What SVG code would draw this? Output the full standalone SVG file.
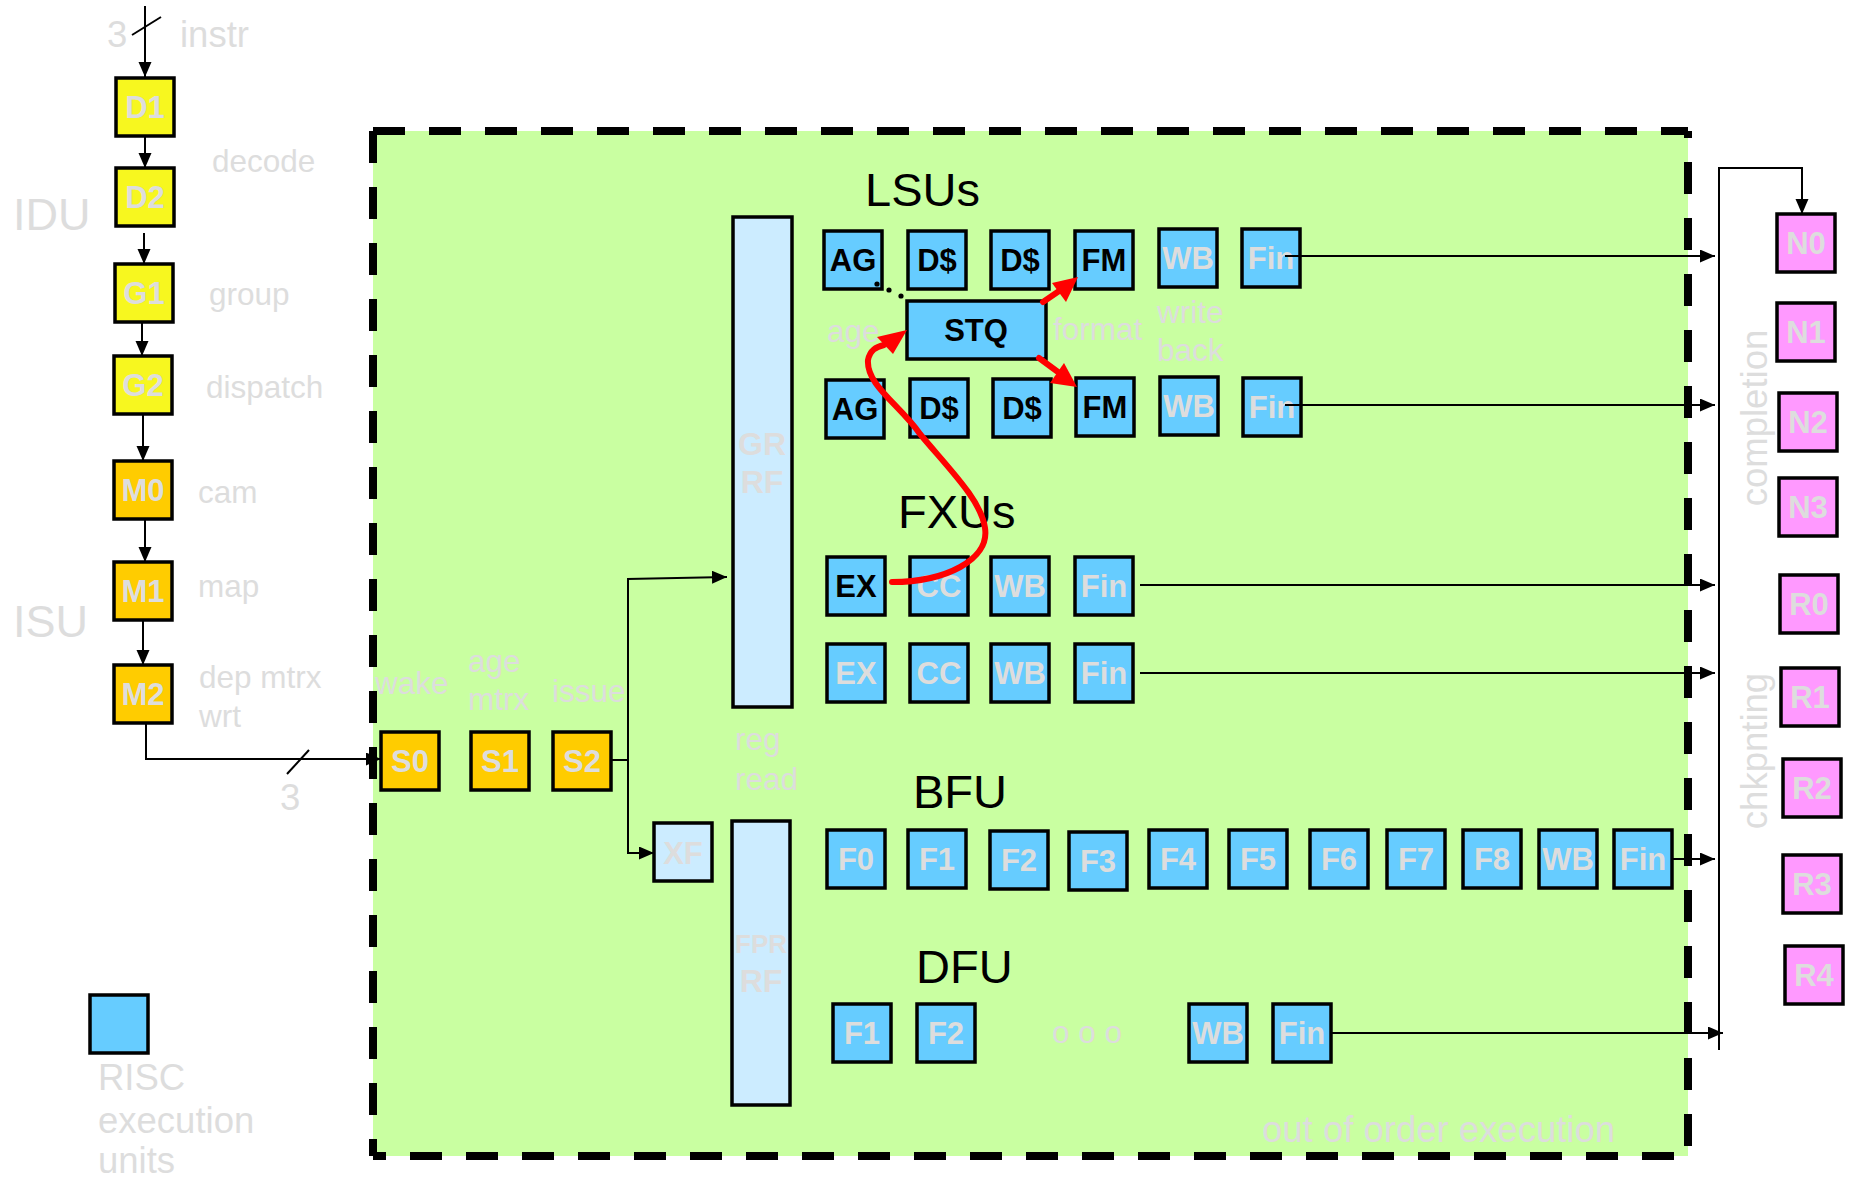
<svg xmlns="http://www.w3.org/2000/svg" width="1855" height="1182" viewBox="0 0 1855 1182">
<style>
.bx{stroke:#000;stroke-width:3.5}
.y{fill:#F7F71F}.o{fill:#FFCC00}.b{fill:#66CCFF}.lb{fill:#CCECFF}.p{fill:#FF99FF}
.bt{font-family:"Liberation Sans",Arial,sans-serif;font-weight:bold;font-size:31px;text-anchor:middle}
.g{fill:#DDDDDD}.k{fill:#000}
.lbl{font-family:"Liberation Sans",Arial,sans-serif;font-size:31.5px;fill:#DDDDDD}
.big{font-size:36.5px}
.hd{font-family:"Liberation Sans",Arial,sans-serif;font-size:47px;fill:#000}
.ln{stroke:#000;stroke-width:2;fill:none}
.dash{stroke:#000;stroke-width:8;stroke-dasharray:32 24;fill:none}
.red{stroke:#FF0000;stroke-width:6;fill:none;stroke-linecap:round}
</style>
<defs>
<marker id="ah" markerUnits="userSpaceOnUse" markerWidth="16" markerHeight="14" refX="15" refY="6.5" orient="auto"><path d="M0,0 L15,6.5 L0,13 z" fill="#000"/></marker>
</defs>
<rect width="1855" height="1182" fill="#fff"/>
<!-- out of order region -->
<g id="ooo-region">
<rect x="373" y="131" width="1315" height="1025" fill="#C9FFA1"/>
<text class="lbl big" x="1262" y="1142">out of order execution</text>
</g>
<!-- labels -->
<g id="labels">
<text class="lbl big" x="107" y="47">3</text>
<text class="lbl big" x="180" y="47">instr</text>
<text class="lbl" x="212" y="172">decode</text>
<text class="lbl" x="13" y="230" style="font-size:45px">IDU</text>
<text class="lbl" x="209" y="305">group</text>
<text class="lbl" x="206" y="398">dispatch</text>
<text class="lbl" x="198" y="503">cam</text>
<text class="lbl" x="198" y="597">map</text>
<text class="lbl" x="13" y="637" style="font-size:45px">ISU</text>
<text class="lbl" x="199" y="688">dep mtrx</text>
<text class="lbl" x="199" y="727">wrt</text>
<text class="lbl big" x="280" y="810">3</text>
<text class="lbl big" x="98" y="1090">RISC</text>
<text class="lbl big" x="98" y="1133">execution</text>
<text class="lbl big" x="98" y="1173">units</text>
<text class="lbl" x="375" y="694">wake</text>
<text class="lbl" x="468" y="672">age</text>
<text class="lbl" x="468" y="710">mtrx</text>
<text class="lbl" x="552" y="702">issue</text>
<text class="lbl" x="735" y="750">reg</text>
<text class="lbl" x="735" y="790">read</text>
<text class="lbl" x="827" y="342">age</text>
<text class="lbl" x="1053" y="340">format</text>
<text class="lbl" x="1157" y="323">write</text>
<text class="lbl" x="1157" y="361">back</text>
<text class="lbl" x="1052" y="1043">o o o</text>
<text class="hd" x="865" y="206">LSUs</text>
<text class="hd" x="898" y="528">FXUs</text>
<text class="hd" x="913" y="808">BFU</text>
<text class="hd" x="916" y="983">DFU</text>
<text class="lbl big" text-anchor="middle" transform="translate(1767,418) rotate(-90)">completion</text>
<text class="lbl big" text-anchor="middle" transform="translate(1767,751) rotate(-90)">chkpnting</text>
</g>
<!-- nodes -->
<g id="D1"><rect class="bx y" x="116" y="78" width="58" height="58"/><text class="bt g" x="145" y="118">D1</text></g>
<g id="D2"><rect class="bx y" x="116" y="168" width="58" height="58"/><text class="bt g" x="145" y="208">D2</text></g>
<g id="G1"><rect class="bx y" x="115" y="264" width="58" height="58"/><text class="bt g" x="144" y="304">G1</text></g>
<g id="G2"><rect class="bx y" x="114" y="356" width="58" height="58"/><text class="bt g" x="143" y="396">G2</text></g>
<g id="M0"><rect class="bx o" x="114" y="461" width="58" height="58"/><text class="bt g" x="143" y="501">M0</text></g>
<g id="M1"><rect class="bx o" x="114" y="562" width="58" height="58"/><text class="bt g" x="143" y="602">M1</text></g>
<g id="M2"><rect class="bx o" x="114" y="665" width="58" height="58"/><text class="bt g" x="143" y="705">M2</text></g>
<g id="RISC-legend"><rect class="bx b" x="90" y="995" width="58" height="58"/></g>
<g id="S0"><rect class="bx o" x="381" y="732" width="58" height="58"/><text class="bt g" x="410" y="772">S0</text></g>
<g id="S1"><rect class="bx o" x="471" y="732" width="58" height="58"/><text class="bt g" x="500" y="772">S1</text></g>
<g id="S2"><rect class="bx o" x="553" y="732" width="58" height="58"/><text class="bt g" x="582" y="772">S2</text></g>
<g id="XF"><rect class="bx lb" x="654" y="823" width="58" height="58"/><text class="bt g" x="683" y="864">XF</text></g>
<g id="GRRF"><rect class="bx lb" x="733" y="217" width="59" height="490"/><text class="bt g" x="762" y="455" style="font-size:32px">GR</text><text class="bt g" x="762" y="493" style="font-size:32px">RF</text></g>
<g id="FPRRF"><rect class="bx lb" x="732" y="821" width="58" height="284"/><text class="bt g" x="761" y="953" style="font-size:26px">FPR</text><text class="bt g" x="761" y="992" style="font-size:32px">RF</text></g>
<!-- LSU row 1 -->
<g id="LSU1-AG"><rect class="bx b" x="824" y="231" width="58" height="58"/><text class="bt k" x="853" y="271">AG</text></g>
<g id="LSU1-D1"><rect class="bx b" x="908" y="231" width="58" height="58"/><text class="bt k" x="937" y="271">D$</text></g>
<g id="LSU1-D2"><rect class="bx b" x="991" y="231" width="58" height="58"/><text class="bt k" x="1020" y="271">D$</text></g>
<g id="LSU1-FM"><rect class="bx b" x="1075" y="231" width="58" height="58"/><text class="bt k" x="1104" y="271">FM</text></g>
<g id="LSU1-WB"><rect class="bx b" x="1159" y="229" width="58" height="58"/><text class="bt g" x="1188" y="269">WB</text></g>
<g id="LSU1-Fin"><rect class="bx b" x="1242" y="229" width="58" height="58"/><text class="bt g" x="1271" y="269">Fin</text></g>
<!-- LSU row 2 -->
<g id="LSU2-AG"><rect class="bx b" x="826" y="380" width="58" height="58"/><text class="bt k" x="855" y="420">AG</text></g>
<g id="LSU2-D1"><rect class="bx b" x="910" y="379" width="58" height="58"/><text class="bt k" x="939" y="419">D$</text></g>
<g id="LSU2-D2"><rect class="bx b" x="993" y="379" width="58" height="58"/><text class="bt k" x="1022" y="419">D$</text></g>
<g id="LSU2-FM"><rect class="bx b" x="1076" y="378" width="58" height="58"/><text class="bt k" x="1105" y="418">FM</text></g>
<g id="LSU2-WB"><rect class="bx b" x="1160" y="377" width="58" height="58"/><text class="bt g" x="1189" y="417">WB</text></g>
<g id="LSU2-Fin"><rect class="bx b" x="1243" y="378" width="58" height="58"/><text class="bt g" x="1272" y="418">Fin</text></g>
<g id="STQ"><rect class="bx b" x="907" y="301" width="139" height="58"/><text class="bt k" x="976" y="341">STQ</text></g>
<!-- FXU -->
<g id="FXU1-EX"><rect class="bx b" x="827" y="557" width="58" height="58"/><text class="bt k" x="856" y="597">EX</text></g>
<g id="FXU1-CC"><rect class="bx b" x="910" y="557" width="58" height="58"/><text class="bt g" x="939" y="597">CC</text></g>
<g id="FXU1-WB"><rect class="bx b" x="991" y="557" width="58" height="58"/><text class="bt g" x="1020" y="597">WB</text></g>
<g id="FXU1-Fin"><rect class="bx b" x="1075" y="557" width="58" height="58"/><text class="bt g" x="1104" y="597">Fin</text></g>
<g id="FXU2-EX"><rect class="bx b" x="827" y="644" width="58" height="58"/><text class="bt g" x="856" y="684">EX</text></g>
<g id="FXU2-CC"><rect class="bx b" x="910" y="644" width="58" height="58"/><text class="bt g" x="939" y="684">CC</text></g>
<g id="FXU2-WB"><rect class="bx b" x="991" y="644" width="58" height="58"/><text class="bt g" x="1020" y="684">WB</text></g>
<g id="FXU2-Fin"><rect class="bx b" x="1075" y="644" width="58" height="58"/><text class="bt g" x="1104" y="684">Fin</text></g>
<!-- BFU -->
<g id="BFU-F0"><rect class="bx b" x="827" y="830" width="58" height="58"/><text class="bt g" x="856" y="870">F0</text></g>
<g id="BFU-F1"><rect class="bx b" x="908" y="830" width="58" height="58"/><text class="bt g" x="937" y="870">F1</text></g>
<g id="BFU-F2"><rect class="bx b" x="990" y="831" width="58" height="58"/><text class="bt g" x="1019" y="871">F2</text></g>
<g id="BFU-F3"><rect class="bx b" x="1069" y="832" width="58" height="58"/><text class="bt g" x="1098" y="872">F3</text></g>
<g id="BFU-F4"><rect class="bx b" x="1149" y="830" width="58" height="58"/><text class="bt g" x="1178" y="870">F4</text></g>
<g id="BFU-F5"><rect class="bx b" x="1229" y="830" width="58" height="58"/><text class="bt g" x="1258" y="870">F5</text></g>
<g id="BFU-F6"><rect class="bx b" x="1310" y="830" width="58" height="58"/><text class="bt g" x="1339" y="870">F6</text></g>
<g id="BFU-F7"><rect class="bx b" x="1387" y="830" width="58" height="58"/><text class="bt g" x="1416" y="870">F7</text></g>
<g id="BFU-F8"><rect class="bx b" x="1463" y="830" width="58" height="58"/><text class="bt g" x="1492" y="870">F8</text></g>
<g id="BFU-WB"><rect class="bx b" x="1539" y="830" width="58" height="58"/><text class="bt g" x="1568" y="870">WB</text></g>
<g id="BFU-Fin"><rect class="bx b" x="1614" y="830" width="58" height="58"/><text class="bt g" x="1643" y="870">Fin</text></g>
<!-- DFU -->
<g id="DFU-F1"><rect class="bx b" x="833" y="1004" width="58" height="58"/><text class="bt g" x="862" y="1044">F1</text></g>
<g id="DFU-F2"><rect class="bx b" x="917" y="1004" width="58" height="58"/><text class="bt g" x="946" y="1044">F2</text></g>
<g id="DFU-WB"><rect class="bx b" x="1189" y="1004" width="58" height="58"/><text class="bt g" x="1218" y="1044">WB</text></g>
<g id="DFU-Fin"><rect class="bx b" x="1273" y="1004" width="58" height="58"/><text class="bt g" x="1302" y="1044">Fin</text></g>
<!-- completion / checkpoint -->
<g id="N0"><rect class="bx p" x="1777" y="214" width="58" height="58"/><text class="bt g" x="1806" y="254">N0</text></g>
<g id="N1"><rect class="bx p" x="1777" y="303" width="58" height="58"/><text class="bt g" x="1806" y="343">N1</text></g>
<g id="N2"><rect class="bx p" x="1779" y="393" width="58" height="58"/><text class="bt g" x="1808" y="433">N2</text></g>
<g id="N3"><rect class="bx p" x="1779" y="478" width="58" height="58"/><text class="bt g" x="1808" y="518">N3</text></g>
<g id="R0"><rect class="bx p" x="1780" y="575" width="58" height="58"/><text class="bt g" x="1809" y="615">R0</text></g>
<g id="R1"><rect class="bx p" x="1781" y="668" width="58" height="58"/><text class="bt g" x="1810" y="708">R1</text></g>
<g id="R2"><rect class="bx p" x="1783" y="759" width="58" height="58"/><text class="bt g" x="1812" y="799">R2</text></g>
<g id="R3"><rect class="bx p" x="1783" y="855" width="58" height="58"/><text class="bt g" x="1812" y="895">R3</text></g>
<g id="R4"><rect class="bx p" x="1785" y="946" width="58" height="58"/><text class="bt g" x="1814" y="986">R4</text></g>
<!-- connectors -->
<g id="connectors">
<line class="ln" x1="145" y1="6" x2="145" y2="77" marker-end="url(#ah)"/>
<line class="ln" x1="132" y1="35" x2="161" y2="17"/>
<line class="ln" x1="145" y1="136" x2="145" y2="168" marker-end="url(#ah)"/>
<line class="ln" x1="144" y1="233" x2="144" y2="264" marker-end="url(#ah)"/>
<line class="ln" x1="142" y1="322" x2="142" y2="356" marker-end="url(#ah)"/>
<line class="ln" x1="143" y1="414" x2="143" y2="461" marker-end="url(#ah)"/>
<line class="ln" x1="145" y1="519" x2="145" y2="562" marker-end="url(#ah)"/>
<line class="ln" x1="143" y1="620" x2="143" y2="665" marker-end="url(#ah)"/>
<path class="ln" d="M146,723 V759 H381" marker-end="url(#ah)"/>
<line class="ln" x1="287" y1="774" x2="309" y2="750"/>
<path class="ln" d="M611,760 H628"/>
<line class="ln" x1="628" y1="579" x2="628" y2="853"/>
<line class="ln" x1="627" y1="579" x2="727" y2="577" marker-end="url(#ah)"/>
<line class="ln" x1="627" y1="853" x2="654" y2="853" marker-end="url(#ah)"/>
<line class="ln" x1="1285" y1="256" x2="1715" y2="256" marker-end="url(#ah)"/>
<line class="ln" x1="1285" y1="405" x2="1715" y2="405" marker-end="url(#ah)"/>
<line class="ln" x1="1140" y1="585" x2="1715" y2="585" marker-end="url(#ah)"/>
<line class="ln" x1="1140" y1="673" x2="1715" y2="673" marker-end="url(#ah)"/>
<line class="ln" x1="1672" y1="859" x2="1715" y2="859" marker-end="url(#ah)"/>
<line class="ln" x1="1330" y1="1033" x2="1723" y2="1033" marker-end="url(#ah)"/>
<line class="ln" x1="1719" y1="167" x2="1719" y2="1050"/>
<path class="ln" d="M1719,168 H1802 V214" marker-end="url(#ah)"/>
<circle cx="877" cy="284" r="2.6" fill="#000"/>
<circle cx="889" cy="290" r="2.6" fill="#000"/>
<circle cx="901" cy="296" r="2.6" fill="#000"/>
<path class="red" d="M892,582 C945,582 990,560 985,528 C981,500 950,470 920,434 C900,405 866,385 868,360 C870,350 876,347 884,345"/>
<polygon points="907,330 877,337 893,354" fill="#FF0000"/>
<line class="red" x1="1043" y1="302" x2="1062" y2="289"/>
<polygon points="1078,277 1052,283 1066,302" fill="#FF0000"/>
<line class="red" x1="1039" y1="358" x2="1058" y2="372"/>
<polygon points="1077,387 1050,383 1064,363" fill="#FF0000"/>
</g>
<!-- dashed border -->
<g id="border">
<line class="dash" x1="373" y1="131" x2="1688" y2="131"/>
<line class="dash" x1="373" y1="131" x2="373" y2="1156"/>
<line class="dash" x1="373" y1="1156" x2="1688" y2="1156" stroke-dashoffset="19"/>
<line class="dash" x1="1688" y1="131" x2="1688" y2="1156" stroke-dashoffset="25"/>
</g>
</svg>
